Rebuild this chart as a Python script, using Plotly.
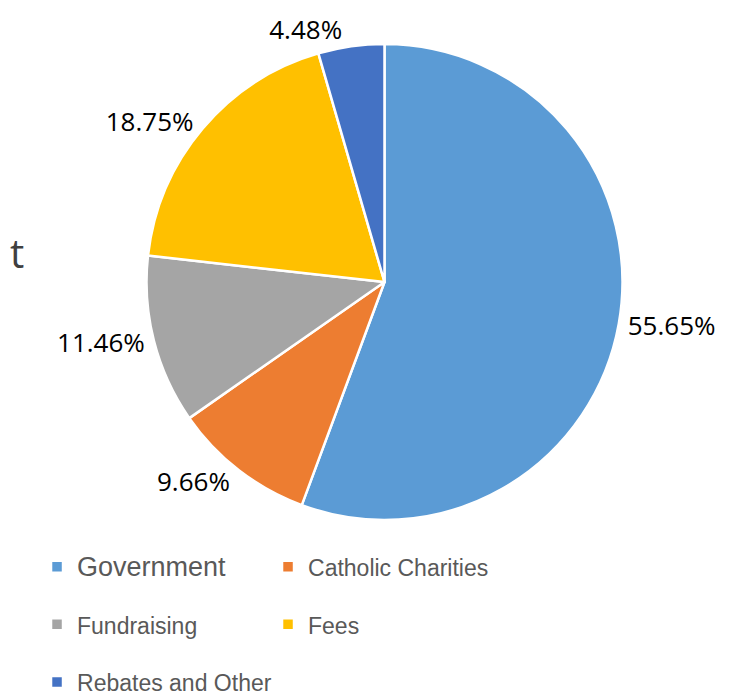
import plotly.graph_objects as go

categories = ["Government", "Catholic Charities", "Fundraising", "Fees", "Rebates and Other"]
shares = [55.65, 9.66, 11.46, 18.75, 4.48]
colors = ["#5B9BD5", "#ED7D31", "#A5A5A5", "#FFC000", "#4472C4"]
legend_sizes = [27, 23, 23, 23, 23]

legend_names = [
    '<span style="font-size:%dpx; baseline-shift:7px">%s</span>' % (s, c)
    for c, s in zip(categories, legend_sizes)
]

fig = go.Figure(
    go.Pie(
        labels=legend_names,
        values=shares,
        sort=False,
        direction="clockwise",
        rotation=0,
        marker=dict(colors=colors, line=dict(color="white", width=2.5)),
        textposition="outside",
        texttemplate="%{percent:.2%}",
        textfont=dict(family="Open Sans, Liberation Sans, sans-serif", size=26, color="#000000"),
        domain=dict(x=[0.18796, 0.89525], y=[0.2665, 0.9484]),
        hoverinfo="label+percent",
    )
)

fig.add_annotation(
    text="t",
    xref="paper", yref="paper",
    x=-0.0178, y=0.6504,
    xanchor="left", yanchor="middle",
    showarrow=False,
    font=dict(family="Open Sans, Liberation Sans, sans-serif", size=40, color="#404040"),
)

fig.update_layout(
    width=755,
    height=698,
    margin=dict(l=12, r=70, t=0, b=0, autoexpand=False),
    paper_bgcolor="white",
    plot_bgcolor="white",
    showlegend=True,
    legend=dict(
        orientation="h",
        x=0.0253,
        y=0.2479,
        xanchor="left",
        yanchor="top",
        entrywidth=186,
        entrywidthmode="pixels",
        font=dict(family="Liberation Sans, Arial, sans-serif", size=42, color="#595959"),
        bgcolor="rgba(0,0,0,0)",
        traceorder="normal",
    ),
)

fig.write_html("out.html")
